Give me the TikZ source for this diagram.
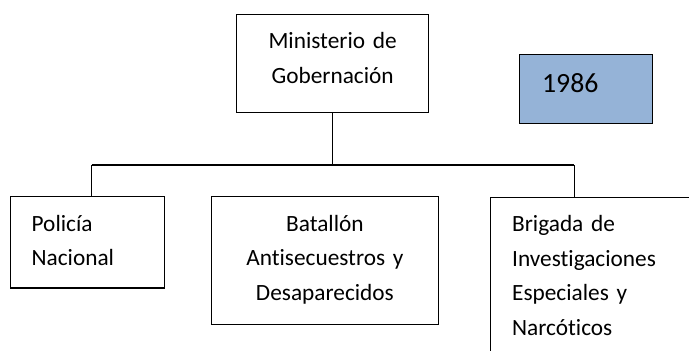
\documentclass[tikz,border=0pt]{standalone}
\usepackage{fontspec}
\setmainfont{Carlito}[RawFeature=-liga]
\definecolor{yearblue}{RGB}{149,179,215}

\begin{document}
\begin{tikzpicture}[x=1pt, y=-1pt, line width=1.3pt,
    orgbox/.style={draw, anchor=north west, inner xsep=21.5pt, inner ysep=0pt,
        text height=34.5pt, font=\fontsize{23.3}{34.5}\selectfont}]
            \useasboundingbox (0,0) rectangle (689,351);
            \clip (0,0) rectangle (689,351);

            \node[orgbox, text width=149pt, align=center, text depth=63.5pt] (min) at (236,13.5) {Ministerio de\\Gobernación};
            \node[orgbox, fill=yearblue, inner xsep=22.5pt, text width=87.5pt, align=left, text height=38.5pt, text depth=30.5pt,
                font=\fontsize{27.8}{33}\selectfont] (year) at (519,53.5) {1986};
            \node[orgbox, text width=111.5pt, align=left, text depth=56.8pt] (pol) at (9.5,196) {Policía\\Nacional};
            \node[orgbox, text width=183.5pt, align=center, text depth=93.5pt] (bat) at (211,196) {Batallón\\Antisecuestros y\\Desaparecidos};
            \node[orgbox, text width=200pt, align=left, text depth=130pt] (brig) at (490,196.5) {Brigada de\\Investigaciones\\Especiales y\\Narcóticos};

            \coordinate (busL) at (91.6,165);
            \coordinate (busR) at (574.3,165);

            \draw (min.south) -- (min.south |- busL);
            \draw (busL) -- (busR);
            \draw (busL) -- (busL |- pol.north);
            \draw (busR) -- (busR |- brig.north);
        \end{tikzpicture}
\end{document}
